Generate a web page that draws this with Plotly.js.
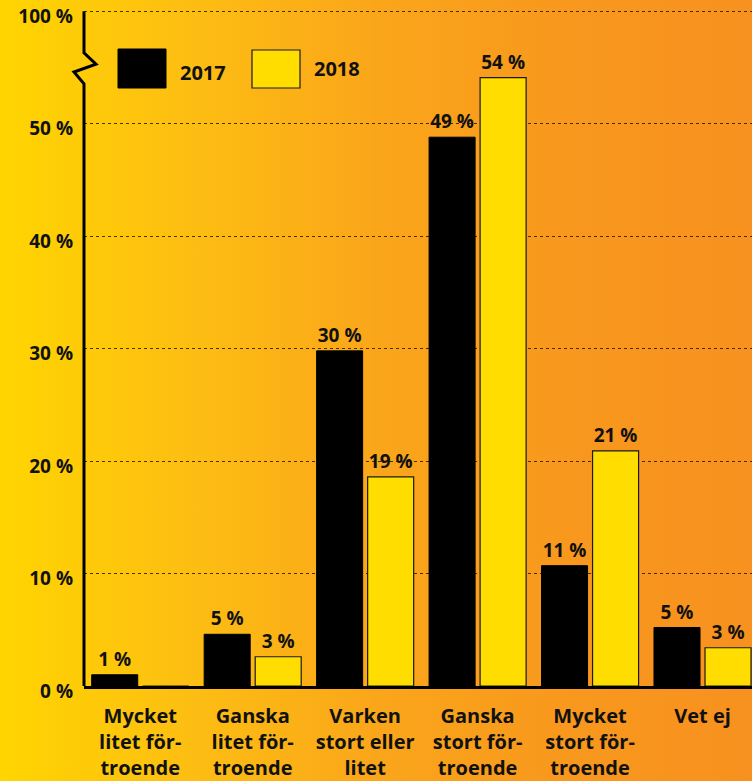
<!DOCTYPE html>
<html>
<head>
<meta charset="utf-8">
<script src="https://cdn.plot.ly/plotly-3.0.1.min.js"></script>
<style>
html,body{margin:0;padding:0;}
body{width:752px;height:781px;background:linear-gradient(to right,#FFD500 0%,#FDBE12 25%,#FAA61A 50%,#F8981D 75%,#F7911F 100%);}
#chart{width:752px;height:781px;}
</style>
</head>
<body>
<div id="chart"></div>
<script>
const categories = [
  "Mycket<br>litet för-<br>troende",
  "Ganska<br>litet för-<br>troende",
  "Varken<br>stort eller<br>litet",
  "Ganska<br>stort för-<br>troende",
  "Mycket<br>stort för-<br>troende",
  "Vet ej"
];
const seriesNames = ["2017", "2018"];
const values2017 = [1.0, 4.6, 29.8, 48.8, 10.7, 5.2];
const values2018 = [0, 2.6, 18.6, 54.1, 20.9, 3.4];
const tickVals = [0, 10, 20, 30, 40, 50, 60];
const tickText = ["0 %", "10 %", "20 %", "30 %", "40 %", "50 %", "100 %"];

const FONT = "Open Sans, Noto Sans, sans-serif";
const lab = v => v > 0 ? Math.round(v) + " %" : "";
const xIdx = categories.map((c, i) => i);

const common = {
  type: "bar",
  x: xIdx,
  textposition: "outside",
  cliponaxis: false,
  textfont: {family: FONT, size: 19, weight: 700, color: "#111"},
  hoverinfo: "skip",
  showlegend: false
};

const traces = [
  Object.assign({}, common, {
    name: seriesNames[0], y: values2017, text: values2017.map(lab),
    marker: {color: "#000000", line: {color: "#000", width: 1}}
  }),
  Object.assign({}, common, {
    name: seriesNames[1], y: values2018, text: values2018.map(lab),
    marker: {color: "#FFDD00", line: {color: "#1a1a1a", width: 1.2}}
  })
];

const YMAX = 61;
const L = 84, T = 0, W = 668, H = 686;
const px = p => (p - L) / W;
const py = p => (T + H - p) / H;

const layout = {
  width: 752, height: 781,
  margin: {l: 84, r: 0, t: 0, b: 95},
  paper_bgcolor: "rgba(0,0,0,0)",
  plot_bgcolor: "rgba(0,0,0,0)",
  barmode: "group",
  bargap: 0.0925,
  bargroupgap: 0.098,
  font: {family: FONT, color: "#111"},
  xaxis: {
    range: [-0.5, 5.44],
    tickvals: xIdx, ticktext: categories,
    showline: true, linecolor: "#000", linewidth: 3,
    showgrid: false, zeroline: false, ticks: "",
    ticklabelstandoff: 10,
    ticklabeloverflow: "allow",
    tickfont: {family: FONT, size: 20, weight: 700, color: "#111"},
    fixedrange: true
  },
  yaxis: {
    range: [0, YMAX],
    tickvals: tickVals, ticktext: tickText,
    showline: false, zeroline: false,
    showgrid: true, gridcolor: "rgba(40,25,0,0.85)", griddash: "dot", gridwidth: 1,
    ticks: "", ticklabelstandoff: 10, ticklabelshift: 5,
    ticklabeloverflow: "allow",
    tickfont: {family: FONT, size: 19, weight: 700, color: "#111"},
    fixedrange: true
  },
  shapes: [
    {
      type: "path", xref: "paper", yref: "y", xsizemode: "pixel", xanchor: 0,
      path: "M0,60 L0,56.3 L12,55.3 L-10,54.6 L0,53.55 L0,0",
      line: {color: "#000", width: 3}
    },
    {type: "rect", xref: "paper", yref: "paper", x0: px(118), x1: px(166), y0: py(88), y1: py(49),
     fillcolor: "#000", line: {color: "#000", width: 1}},
    {type: "rect", xref: "paper", yref: "paper", x0: px(252), x1: px(300), y0: py(88), y1: py(50),
     fillcolor: "#FFDD00", line: {color: "#1a1a1a", width: 1.2}}
  ],
  annotations: [
    {xref: "paper", yref: "paper", x: px(178), y: py(72), xanchor: "left", yanchor: "middle",
     text: seriesNames[0], showarrow: false, font: {family: FONT, size: 20, weight: 700, color: "#111"}},
    {xref: "paper", yref: "paper", x: px(312), y: py(69), xanchor: "left", yanchor: "middle",
     text: seriesNames[1], showarrow: false, font: {family: FONT, size: 20, weight: 700, color: "#111"}}
  ]
};

Plotly.newPlot("chart", traces, layout, {displayModeBar: false, staticPlot: true});
</script>
</body>
</html>
